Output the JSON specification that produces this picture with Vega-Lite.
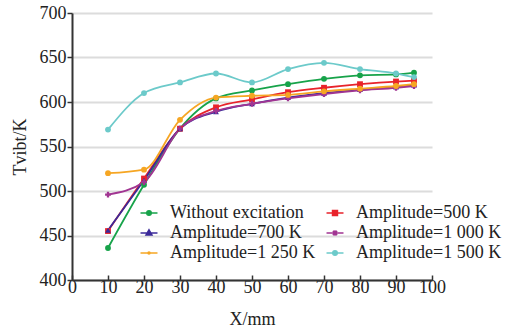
{
  "$schema": "https://vega.github.io/schema/vega-lite/v6.json",
  "autosize": "none",
  "width": 360,
  "height": 267,
  "padding": {"left": 72, "top": 13, "right": 79, "bottom": 54},
  "background": "white",
  "config": {
    "font": "Liberation Serif",
    "view": {"stroke": null},
    "axis": {"labelFont": "Liberation Serif", "titleFont": "Liberation Serif", "labelColor": "#222", "titleColor": "#222", "domainColor": "#333", "domainWidth": 2, "tickColor": "#333", "tickWidth": 1.5, "labelFontSize": 18, "titleFontSize": 18, "titleFontWeight": "normal"}
  },
  "data": {"values": [
    {"x": 10, "y": 436, "s": "Without excitation"},
    {"x": 20, "y": 507, "s": "Without excitation"},
    {"x": 30, "y": 570, "s": "Without excitation"},
    {"x": 40, "y": 604, "s": "Without excitation"},
    {"x": 50, "y": 613, "s": "Without excitation"},
    {"x": 60, "y": 620, "s": "Without excitation"},
    {"x": 70, "y": 626, "s": "Without excitation"},
    {"x": 80, "y": 630, "s": "Without excitation"},
    {"x": 90, "y": 631, "s": "Without excitation"},
    {"x": 95, "y": 633, "s": "Without excitation"},
    {"x": 10, "y": 455, "s": "Amplitude=500 K"},
    {"x": 20, "y": 514, "s": "Amplitude=500 K"},
    {"x": 30, "y": 570, "s": "Amplitude=500 K"},
    {"x": 40, "y": 594, "s": "Amplitude=500 K"},
    {"x": 50, "y": 603, "s": "Amplitude=500 K"},
    {"x": 60, "y": 611, "s": "Amplitude=500 K"},
    {"x": 70, "y": 616, "s": "Amplitude=500 K"},
    {"x": 80, "y": 620, "s": "Amplitude=500 K"},
    {"x": 90, "y": 623, "s": "Amplitude=500 K"},
    {"x": 95, "y": 624, "s": "Amplitude=500 K"},
    {"x": 10, "y": 456, "s": "Amplitude=700 K"},
    {"x": 20, "y": 512, "s": "Amplitude=700 K"},
    {"x": 30, "y": 570, "s": "Amplitude=700 K"},
    {"x": 40, "y": 589, "s": "Amplitude=700 K"},
    {"x": 50, "y": 598, "s": "Amplitude=700 K"},
    {"x": 60, "y": 605, "s": "Amplitude=700 K"},
    {"x": 70, "y": 610, "s": "Amplitude=700 K"},
    {"x": 80, "y": 614, "s": "Amplitude=700 K"},
    {"x": 90, "y": 617, "s": "Amplitude=700 K"},
    {"x": 95, "y": 619, "s": "Amplitude=700 K"},
    {"x": 10, "y": 496, "s": "Amplitude=1 000 K"},
    {"x": 20, "y": 510, "s": "Amplitude=1 000 K"},
    {"x": 30, "y": 570, "s": "Amplitude=1 000 K"},
    {"x": 40, "y": 590, "s": "Amplitude=1 000 K"},
    {"x": 50, "y": 598, "s": "Amplitude=1 000 K"},
    {"x": 60, "y": 604, "s": "Amplitude=1 000 K"},
    {"x": 70, "y": 609, "s": "Amplitude=1 000 K"},
    {"x": 80, "y": 613, "s": "Amplitude=1 000 K"},
    {"x": 90, "y": 616, "s": "Amplitude=1 000 K"},
    {"x": 95, "y": 618, "s": "Amplitude=1 000 K"},
    {"x": 10, "y": 520, "s": "Amplitude=1 250 K"},
    {"x": 20, "y": 524, "s": "Amplitude=1 250 K"},
    {"x": 30, "y": 580, "s": "Amplitude=1 250 K"},
    {"x": 40, "y": 605, "s": "Amplitude=1 250 K"},
    {"x": 50, "y": 607, "s": "Amplitude=1 250 K"},
    {"x": 60, "y": 608, "s": "Amplitude=1 250 K"},
    {"x": 70, "y": 612, "s": "Amplitude=1 250 K"},
    {"x": 80, "y": 615, "s": "Amplitude=1 250 K"},
    {"x": 90, "y": 618, "s": "Amplitude=1 250 K"},
    {"x": 95, "y": 620, "s": "Amplitude=1 250 K"},
    {"x": 10, "y": 569, "s": "Amplitude=1 500 K"},
    {"x": 20, "y": 610, "s": "Amplitude=1 500 K"},
    {"x": 30, "y": 622, "s": "Amplitude=1 500 K"},
    {"x": 40, "y": 632, "s": "Amplitude=1 500 K"},
    {"x": 50, "y": 622, "s": "Amplitude=1 500 K"},
    {"x": 60, "y": 637, "s": "Amplitude=1 500 K"},
    {"x": 70, "y": 644, "s": "Amplitude=1 500 K"},
    {"x": 80, "y": 637, "s": "Amplitude=1 500 K"},
    {"x": 90, "y": 632, "s": "Amplitude=1 500 K"},
    {"x": 95, "y": 628, "s": "Amplitude=1 500 K"}
  ]},
  "encoding": {
    "x": {"field": "x", "type": "quantitative", "scale": {"domain": [0, 100], "nice": false},
      "axis": {"title": "X/mm", "values": [0,10,20,30,40,50,60,70,80,90,100], "grid": false, "tickSize": -5, "labelPadding": 3, "titlePadding": 14, "labelFlush": false, "labelOverlap": false}},
    "y": {"field": "y", "type": "quantitative", "scale": {"domain": [400, 700], "nice": false, "zero": false},
      "axis": {"title": "Tvibt/K", "values": [400,450,500,550,600,650,700], "grid": true, "gridColor": "#dcdcdc", "gridWidth": 2, "tickSize": 5, "labelPadding": 1, "titlePadding": 10, "labelFlush": false}},
    "color": {"field": "s", "type": "nominal",
      "scale": {"domain": ["Without excitation", "Amplitude=700 K", "Amplitude=1 250 K", "Amplitude=500 K", "Amplitude=1 000 K", "Amplitude=1 500 K"],
        "range": ["#17a34a", "#3b2a99", "#f6a623", "#e8232b", "#a13592", "#6ccaca"]},
      "legend": {"orient": "none", "legendX": 68, "legendY": 191, "columns": 2, "title": null, "labelFontSize": 18, "labelFont": "Liberation Serif", "labelColor": "#222", "symbolSize": 200, "rowPadding": 2, "columnPadding": 7, "labelOffset": 12,
        "encode": {"symbols": {"update": {
          "shape": {"signal": "datum.value === 'Amplitude=500 K' ? 'M-1.2,0L1.2,0M-0.35,-0.35L0.35,-0.35L0.35,0.35L-0.35,0.35Z' : datum.value === 'Amplitude=700 K' ? 'M-1.2,0L1.2,0M0,-0.45L0.42,0.3L-0.42,0.3Z' : datum.value === 'Amplitude=1 000 K' ? 'M-1.2,0L1.2,0M0,-0.4L0,0.4M-0.3,-0.3L0.3,0.3M-0.3,0.3L0.3,-0.3' : datum.value === 'Amplitude=1 250 K' ? 'M-1.2,0L1.2,0M0.15,0A0.15,0.15 0 1,1 -0.15,0A0.15,0.15 0 1,1 0.15,0Z' : 'M-1.2,0L1.2,0M0.32,0A0.32,0.32 0 1,1 -0.32,0A0.32,0.32 0 1,1 0.32,0Z'"},
          "stroke": {"scale": "color", "field": "value"},
          "fill": {"scale": "color", "field": "value"},
          "strokeWidth": {"value": 1.5},
          "opacity": {"value": 1}
        }}}}}
  },
  "layer": [
    {"mark": {"type": "line", "interpolate": "monotone", "strokeWidth": 1.8}},
    {"mark": {"type": "point", "filled": true, "size": 34, "opacity": 1},
      "encoding": {"shape": {"field": "s", "type": "nominal", "legend": null,
        "scale": {"domain": ["Without excitation", "Amplitude=500 K", "Amplitude=700 K", "Amplitude=1 000 K", "Amplitude=1 250 K", "Amplitude=1 500 K"],
          "range": ["circle", "square", "triangle-up", "cross", "circle", "circle"]}}}}
  ]
}
